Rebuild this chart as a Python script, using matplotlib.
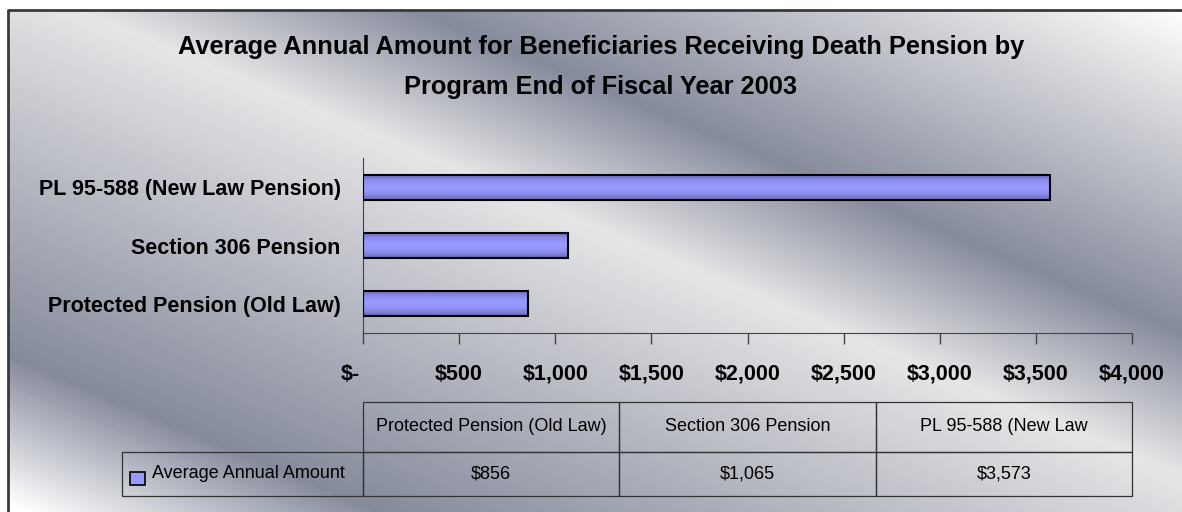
import numpy as np
import matplotlib.pyplot as plt
from matplotlib.colors import LinearSegmentedColormap
from matplotlib.patches import Rectangle
from matplotlib.ticker import FuncFormatter, MultipleLocator
from matplotlib.transforms import ScaledTranslation

# data
programs = ["Protected Pension (Old Law)", "Section 306 Pension", "PL 95-588 (New Law Pension)"]
table_headers = ["Protected Pension (Old Law)", "Section 306 Pension", "PL 95-588 (New Law"]
amounts = [856, 1065, 3573]
series_name = "Average Annual Amount"
title = ("Average Annual Amount for Beneficiaries Receiving Death Pension by\n"
         "Program End of Fiscal Year 2003")

plt.rcParams['font.family'] = ['Liberation Sans', 'DejaVu Sans']

W, H = 1182, 512
fig = plt.figure(figsize=(W / 100, H / 100), dpi=100)

# silver diagonal background behind the chart area
bg = fig.add_axes([0, 0, 1, 1], zorder=-10)
bg.set_axis_off()
fx0, fy0, fx1, fy1 = 8, 10, 1182, 505
xx, yy = np.meshgrid(np.arange(W) + 0.5, np.arange(H) + 0.5)
t = 0.5 * ((fx1 - xx) / (fx1 - fx0) + (yy - fy0) / (fy1 - fy0))
silver = LinearSegmentedColormap.from_list(
    'silver', [(0, '#ffffff'), (0.07, '#e4e4e6'), (0.325, '#868b9c'),
               (0.47, '#e6e6e7'), (0.85, '#868b9c'), (1, '#ffffff')])
rgba = silver(np.clip(t, 0, 1))
rgba[(xx < fx0) | (yy < fy0)] = (1, 1, 1, 1)
bg.imshow(rgba, extent=(0, W, H, 0), aspect='auto', interpolation='bilinear')
bg.plot([fx0, fx0, W + 5], [H + 5, fy0, fy0], color='#3a3a3a', lw=2)
bg.set_xlim(0, W)
bg.set_ylim(H, 0)

fig.text(601 / W, 1 - 35 / H, title, ha='center', va='top', fontsize=18.3,
         weight='bold', linespacing=1.85)

# bar chart
ax = fig.add_axes([363 / W, 1 - 333 / H, (1132 - 363) / W, (333 - 158) / H])
ax.patch.set_alpha(0)
ypos = np.arange(len(programs))
bars = ax.barh(ypos, amounts, height=0.43, facecolor='none', edgecolor='black',
               linewidth=1.5, zorder=3)

s = np.linspace(0, 1, 64)
prof = np.sin(np.pi * s) ** 0.6
dark = np.array([0.34, 0.34, 0.62])
light = np.array([0.6, 0.6, 1.0])
grad = dark + (light - dark) * prof[:, None]
for b in bars:
    ax.imshow(grad[:, None, :], aspect='auto', zorder=2, clip_path=b,
              extent=(b.get_x(), b.get_x() + b.get_width(),
                      b.get_y(), b.get_y() + b.get_height()))

ax.set_xlim(0, 4000)
ax.set_ylim(-0.5, 2.5)
ax.set_yticks(ypos)
ax.set_yticklabels(programs, fontsize=15.5, weight='bold')
for sp in ['top', 'right']:
    ax.spines[sp].set_visible(False)
for sp in ['left', 'bottom']:
    ax.spines[sp].set_color('#444444')

tick_len, tick_pad = 8, 14
ax.xaxis.set_major_locator(MultipleLocator(500))
# zero is written separately below, shifted left like the accounting format
ax.xaxis.set_major_formatter(FuncFormatter(lambda v, p: '' if v == 0 else f'${v:,.0f}'))
ax.tick_params(axis='x', direction='out', length=tick_len, width=1, color='#444444',
               pad=tick_pad, labelsize=15.5)
ax.tick_params(axis='y', length=0, pad=16)
for lbl in ax.get_xticklabels():
    lbl.set_fontweight('bold')
zero_tr = ax.get_xaxis_transform() + ScaledTranslation(
    -13 / 100, -(tick_len + tick_pad) / 72, fig.dpi_scale_trans)
ax.text(0, 0, '$-', transform=zero_tr, ha='center', va='top', fontsize=15.5,
        weight='bold')

# data table under the axis (bbox covers the value grid, row label hangs left)
aw, ah = 1132 - 363, 333 - 158
cell_text = [[f'${v:,}' for v in amounts]]
tbl = ax.table(cellText=cell_text, colLabels=table_headers, rowLabels=[series_name],
               cellLoc='center', rowLoc='left', colWidths=[1 / 3] * 3,
               bbox=[0, -(496 - 333) / ah, 1, (496 - 402) / ah])
tbl.auto_set_font_size(False)
tbl.set_fontsize(13)
for (r, c), cell in tbl.get_celld().items():
    cell.set_facecolor('none')
    cell.set_edgecolor('#333333')
    cell.set_linewidth(0.9)
    cell.set_height(49 if r == 0 else 44)
    if c == -1:
        cell.set_width(240 / aw)
tbl[(1, -1)].PAD = 0.125

ax.add_patch(Rectangle(((130 - 363) / aw, -(485 - 333) / ah), 15 / aw, 13 / ah,
                       transform=ax.transAxes, clip_on=False, facecolor='#9999ff',
                       edgecolor='black', linewidth=1.2, zorder=5))

fig.savefig('out.png', dpi=100)
